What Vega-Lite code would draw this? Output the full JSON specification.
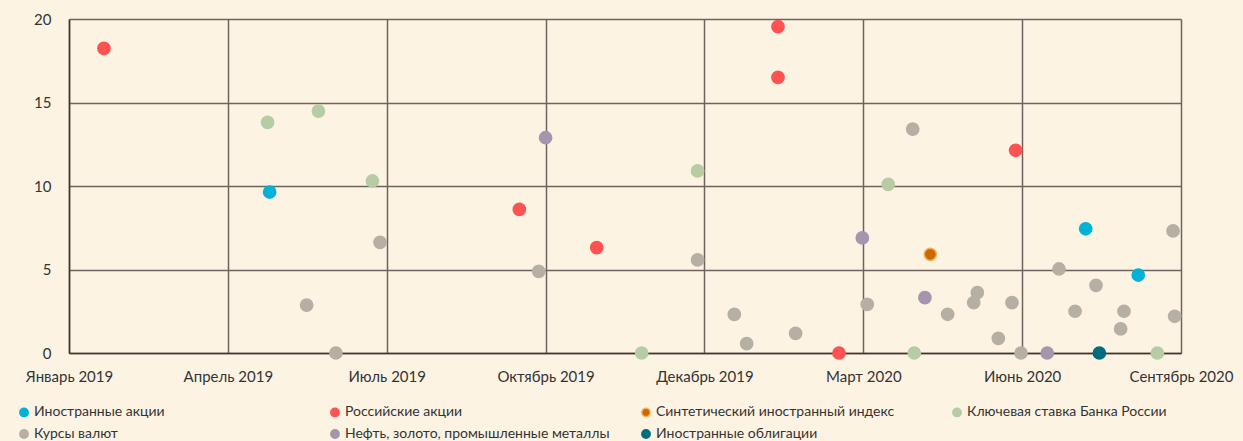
{
  "$schema": "https://vega.github.io/schema/vega-lite/v6.json",
  "width": 1112,
  "height": 334,
  "autosize": {"type": "none"},
  "padding": {"left": 69, "top": 19, "right": 62, "bottom": 88},
  "background": "#fdf3e3",
  "config": {
    "view": {"stroke": null},
    "font": "Lato",
    "axis": {
      "labelFont": "Lato",
      "labelFontSize": 15,
      "labelColor": "#333333",
      "gridColor": "#6f645d",
      "gridWidth": 1.5,
      "gridOpacity": 1,
      "domainColor": "#3d3532",
      "domainWidth": 1.5,
      "ticks": false,
      "title": null
    }
  },
  "data": {
    "values": [
      {"t": 1.263, "v": 9.64, "cat": "Иностранные акции"},
      {"t": 6.400, "v": 7.44, "cat": "Иностранные акции"},
      {"t": 6.731, "v": 4.67, "cat": "Иностранные акции"},
      {"t": 0.220, "v": 18.24, "cat": "Российские акции"},
      {"t": 2.835, "v": 8.60, "cat": "Российские акции"},
      {"t": 3.322, "v": 6.31, "cat": "Российские акции"},
      {"t": 4.463, "v": 19.54, "cat": "Российские акции"},
      {"t": 4.463, "v": 16.51, "cat": "Российские акции"},
      {"t": 4.847, "v": 0, "cat": "Российские акции"},
      {"t": 5.959, "v": 12.14, "cat": "Российские акции"},
      {"t": 5.422, "v": 5.91, "cat": "Синтетический иностранный индекс"},
      {"t": 1.250, "v": 13.81, "cat": "Ключевая ставка Банка России"},
      {"t": 1.570, "v": 14.49, "cat": "Ключевая ставка Банка России"},
      {"t": 1.910, "v": 10.30, "cat": "Ключевая ставка Банка России"},
      {"t": 3.605, "v": 0, "cat": "Ключевая ставка Банка России"},
      {"t": 3.957, "v": 10.90, "cat": "Ключевая ставка Банка России"},
      {"t": 5.157, "v": 10.10, "cat": "Ключевая ставка Банка России"},
      {"t": 5.321, "v": 0, "cat": "Ключевая ставка Банка России"},
      {"t": 6.851, "v": 0, "cat": "Ключевая ставка Банка России"},
      {"t": 1.496, "v": 2.87, "cat": "Курсы валют"},
      {"t": 1.680, "v": 0, "cat": "Курсы валют"},
      {"t": 1.958, "v": 6.63, "cat": "Курсы валют"},
      {"t": 2.957, "v": 4.89, "cat": "Курсы валют"},
      {"t": 3.957, "v": 5.57, "cat": "Курсы валют"},
      {"t": 4.188, "v": 2.31, "cat": "Курсы валют"},
      {"t": 4.266, "v": 0.56, "cat": "Курсы валют"},
      {"t": 4.574, "v": 1.18, "cat": "Курсы валют"},
      {"t": 5.025, "v": 2.91, "cat": "Курсы валют"},
      {"t": 5.311, "v": 13.41, "cat": "Курсы валют"},
      {"t": 5.531, "v": 2.32, "cat": "Курсы валют"},
      {"t": 5.695, "v": 3.01, "cat": "Курсы валют"},
      {"t": 5.718, "v": 3.61, "cat": "Курсы валют"},
      {"t": 5.850, "v": 0.88, "cat": "Курсы валют"},
      {"t": 5.936, "v": 3.01, "cat": "Курсы валют"},
      {"t": 5.993, "v": 0, "cat": "Курсы валют"},
      {"t": 6.232, "v": 5.03, "cat": "Курсы валют"},
      {"t": 6.333, "v": 2.50, "cat": "Курсы валют"},
      {"t": 6.465, "v": 4.05, "cat": "Курсы валют"},
      {"t": 6.620, "v": 1.44, "cat": "Курсы валют"},
      {"t": 6.641, "v": 2.50, "cat": "Курсы валют"},
      {"t": 6.950, "v": 7.31, "cat": "Курсы валют"},
      {"t": 6.960, "v": 2.20, "cat": "Курсы валют"},
      {"t": 3.000, "v": 12.89, "cat": "Нефть, золото, промышленные металлы"},
      {"t": 4.994, "v": 6.89, "cat": "Нефть, золото, промышленные металлы"},
      {"t": 5.388, "v": 3.31, "cat": "Нефть, золото, промышленные металлы"},
      {"t": 6.158, "v": 0, "cat": "Нефть, золото, промышленные металлы"},
      {"t": 6.486, "v": 0, "cat": "Иностранные облигации"}
    ]
  },
  "mark": {"type": "circle", "size": 150, "opacity": 1, "fillOpacity": 1, "strokeWidth": 1.5},
  "encoding": {
    "x": {
      "field": "t",
      "type": "quantitative",
      "scale": {"domain": [0, 7], "nice": false, "zero": false},
      "axis": {
        "values": [0, 1, 2, 3, 4, 5, 6, 7],
        "labelExpr": "['Январь 2019','Апрель 2019','Июль 2019','Октябрь 2019','Декабрь 2019','Март 2020','Июнь 2020','Сентябрь 2020'][datum.value]",
        "labelFlush": false,
        "labelOverlap": false,
        "labelPadding": 16,
        "grid": true
      }
    },
    "y": {
      "field": "v",
      "type": "quantitative",
      "scale": {"domain": [0, 20], "nice": false},
      "axis": {
        "values": [0, 5, 10, 15, 20],
        "labelPadding": 18,
        "grid": true
      }
    },
    "fill": {
      "field": "cat",
      "type": "nominal",
      "title": null,
      "scale": {
        "domain": ["Иностранные акции", "Российские акции", "Синтетический иностранный индекс", "Ключевая ставка Банка России", "Курсы валют", "Нефть, золото, промышленные металлы", "Иностранные облигации"],
        "range": ["#00b2d6", "#ff5252", "#c96a00", "#b7cca5", "#b6afa4", "#a596ad", "#006d7e"]
      },
      "legend": {
        "orient": "none",
        "legendX": -52,
        "legendY": 386,
        "direction": "horizontal",
        "columns": 4,
        "gridAlign": "all",
        "columnPadding": 28,
        "rowPadding": 6,
        "symbolType": "circle",
        "symbolSize": 70,
        "symbolStrokeWidth": 1.5,
        "labelFont": "Lato",
        "labelFontSize": 14,
        "labelColor": "#333333",
        "labelOffset": 3,
        "labelLimit": 400
      }
    },
    "stroke": {
      "field": "cat",
      "type": "nominal",
      "title": null,
      "scale": {
        "domain": ["Иностранные акции", "Российские акции", "Синтетический иностранный индекс", "Ключевая ставка Банка России", "Курсы валют", "Нефть, золото, промышленные металлы", "Иностранные облигации"],
        "range": ["#00b2d6", "#ff5252", "#f5b35c", "#b7cca5", "#b6afa4", "#a596ad", "#006d7e"]
      },
      "legend": {
        "orient": "none",
        "legendX": -52,
        "legendY": 386,
        "direction": "horizontal",
        "columns": 4,
        "gridAlign": "all",
        "columnPadding": 28,
        "rowPadding": 6,
        "symbolType": "circle",
        "symbolSize": 70,
        "symbolStrokeWidth": 1.5,
        "labelFont": "Lato",
        "labelFontSize": 14,
        "labelColor": "#333333",
        "labelOffset": 3,
        "labelLimit": 400
      }
    }
  }
}
